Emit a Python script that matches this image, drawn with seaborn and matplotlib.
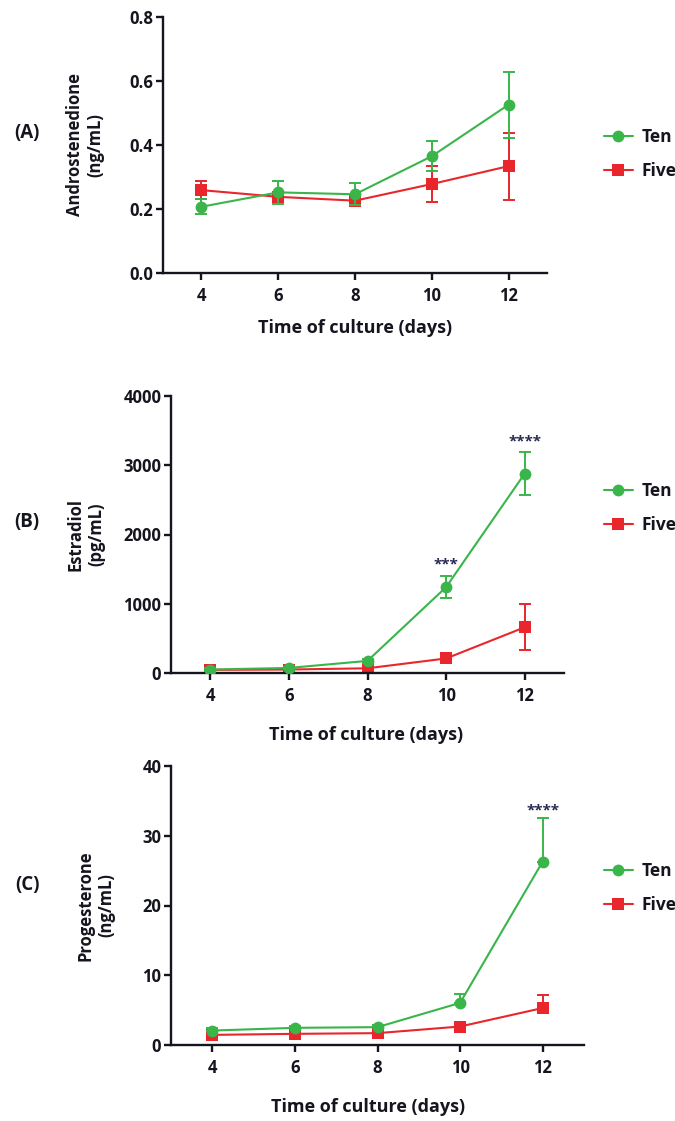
import numpy as np
import pandas as pd
import matplotlib
matplotlib.use("Agg")
import matplotlib.pyplot as plt
from matplotlib.lines import Line2D
import seaborn as sns

# ---- data (mean and error per culture day) ----
days = [4, 6, 8, 10, 12]
groups = ["Ten", "Five"]

andro_ten = [0.207, 0.252, 0.246, 0.365, 0.526]
andro_ten_err = [0.024, 0.036, 0.035, 0.046, 0.103]
andro_five = [0.259, 0.238, 0.226, 0.278, 0.334]
andro_five_err = [0.028, 0.015, 0.015, 0.055, 0.105]

estr_ten = [50, 73, 175, 1240, 2880]
estr_ten_err = [20, 20, 30, 160, 310]
estr_five = [45, 50, 68, 210, 660]
estr_five_err = [15, 15, 20, 40, 330]

prog_ten = [2.07, 2.46, 2.56, 6.04, 26.3]
prog_ten_err = [0.3, 0.3, 0.3, 1.25, 6.2]
prog_five = [1.45, 1.6, 1.7, 2.65, 5.3]
prog_five_err = [0.2, 0.2, 0.2, 0.3, 1.8]

panel_letters = ["(A)", "(B)", "(C)"]
y_labels = ["Androstenedione\n(ng/mL)", "Estradiol\n(pg/mL)", "Progesterone\n(ng/mL)"]
x_label = "Time of culture (days)"
y_ticks = [[0.0, 0.2, 0.4, 0.6, 0.8], [0, 1000, 2000, 3000, 4000], [0, 10, 20, 30, 40]]
y_tick_labels = [["0.0", "0.2", "0.4", "0.6", "0.8"],
                 ["0", "1000", "2000", "3000", "4000"],
                 ["0", "10", "20", "30", "40"]]
x_ticks = [4, 6, 8, 10, 12]
# significance marks: (panel, day, y position, text)
stars = [(1, 10, 1560, "***"), (1, 12, 3340, "****"), (2, 12, 33.6, "****")]

# ---- style ----
sns.set_style("ticks")
plt.rcParams["font.family"] = ["Open Sans", "DejaVu Sans"]
plt.rcParams["font.weight"] = "bold"
TXT = "#15151f"
GREEN = "#3ab54a"
RED = "#e8262b"
colors = {"Ten": GREEN, "Five": RED}
markers = {"Ten": "o", "Five": "s"}
msize = {"Ten": 8.5, "Five": 8}

W, H = 675, 1121
fig = plt.figure(figsize=(W / 100, H / 100), dpi=100)

def fx(px):
    return px / W

def fy(py):
    return 1 - py / H

# axes boxes in pixels: left, top, right, bottom
boxes = [(163, 17, 547, 273), (171, 396, 564, 673), (171, 766, 584, 1045)]
letter_pos = [(27, 133), (27, 522), (27, 885)]
ylabel_x = [85, 86, 96]
xlabel_pos = [(355, 328), (366, 735), (368, 1107)]
legend_center_y = [154, 508, 888]

series = [
    (andro_ten, andro_ten_err, andro_five, andro_five_err, False),
    (estr_ten, estr_ten_err, estr_five, estr_five_err, False),
    (prog_ten, prog_ten_err, prog_five, prog_five_err, True),
]

for i, (l, t, r, b) in enumerate(boxes):
    ax = fig.add_axes([fx(l), fy(b), fx(r - l), (b - t) / H])
    ten, ten_err, five, five_err, upper_only = series[i]
    df = pd.DataFrame({
        "day": days * 2,
        "value": list(ten) + list(five),
        "err": list(ten_err) + list(five_err),
        "group": ["Ten"] * len(days) + ["Five"] * len(days),
    })
    for g, z in (("Five", 2), ("Ten", 3)):
        sub = df[df["group"] == g]
        err = sub["err"].to_numpy()
        yerr = [np.zeros_like(err), err] if upper_only else err
        ax.errorbar(sub["day"], sub["value"], yerr=yerr, fmt="none",
                    ecolor=colors[g], elinewidth=1.4, capsize=4.5,
                    capthick=1.4, zorder=z)
        sns.lineplot(data=sub, x="day", y="value", ax=ax, color=colors[g],
                     marker=markers[g], markersize=msize[g],
                     markeredgewidth=0, linewidth=1.5, legend=False,
                     errorbar=None, zorder=z + 0.5)

    ax.set_xlim(3, 13)
    ax.set_ylim(y_ticks[i][0], y_ticks[i][-1])
    ax.set_xticks(x_ticks)
    ax.set_xticklabels([str(d) for d in x_ticks])
    ax.set_yticks(y_ticks[i])
    ax.set_yticklabels(y_tick_labels[i])
    sns.despine(ax=ax)
    for s in ("left", "bottom"):
        ax.spines[s].set_linewidth(1.7)
        ax.spines[s].set_color(TXT)
    ax.tick_params(axis="both", length=5, width=1.7, color=TXT,
                   labelsize=12, labelcolor=TXT, pad=2)
    for lab in ax.get_xticklabels() + ax.get_yticklabels():
        lab.set_fontweight("bold")
    ax.tick_params(axis="x", pad=5)

    ax.set_xlabel(x_label, fontsize=13, fontweight="bold", color=TXT)
    ax.xaxis.label.set_va("center")
    ax.xaxis.set_label_coords(fx(xlabel_pos[i][0]), fy(xlabel_pos[i][1]),
                              transform=fig.transFigure)
    ax.set_ylabel(y_labels[i], fontsize=12, fontweight="bold", color=TXT,
                  multialignment="center", linespacing=1.2)
    ax.yaxis.label.set_va("center")
    ax.yaxis.set_label_coords(fx(ylabel_x[i]), fy((t + b) / 2),
                              transform=fig.transFigure)

    fig.text(fx(letter_pos[i][0]), fy(letter_pos[i][1]), panel_letters[i],
             ha="center", va="center", fontsize=13.5, fontweight="bold", color=TXT)

    handles = [Line2D([], [], color=colors[g], marker=markers[g],
                      markersize=msize[g], markeredgewidth=0,
                      linewidth=1.5) for g in groups]
    ax.legend(handles, groups, loc="center left",
              bbox_to_anchor=(fx(604), fy(legend_center_y[i])),
              bbox_transform=fig.transFigure, frameon=False,
              prop={"size": 12.5, "weight": "bold"}, labelcolor=TXT,
              handlelength=1.65, handletextpad=0.5, labelspacing=0.95,
              borderpad=0, borderaxespad=0)

    for (p, d, yv, txt) in stars:
        if p == i:
            ax.text(d, yv, txt, ha="center", va="center", fontsize=11,
                    fontweight="bold", color="#2a2a55")

fig.savefig("out.png", dpi=100)
